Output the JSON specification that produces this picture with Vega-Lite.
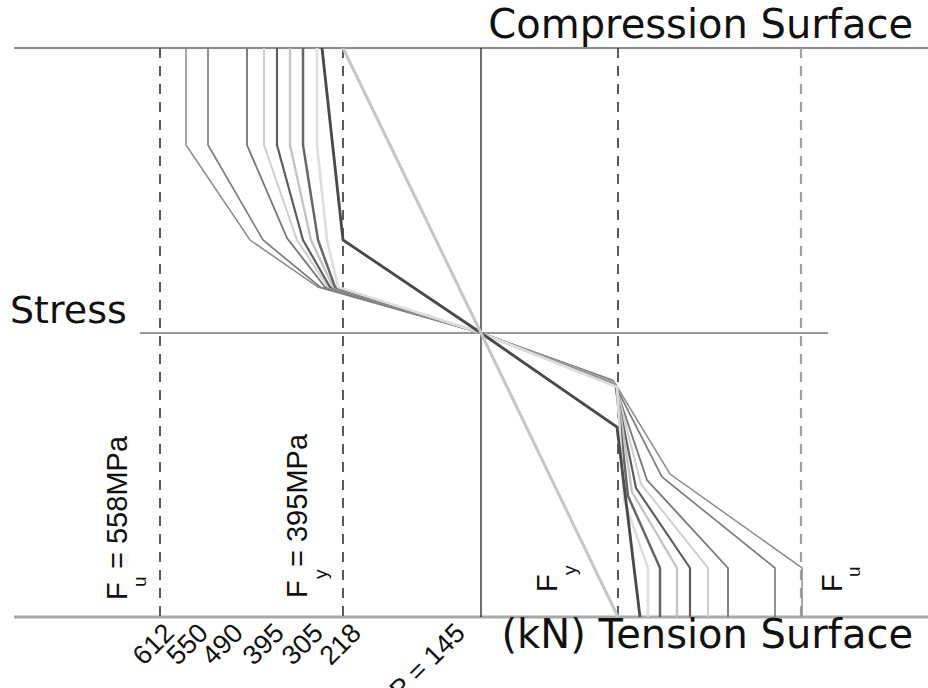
{
  "$schema": "https://vega.github.io/schema/vega-lite/v6.json",
  "width": 928,
  "height": 688,
  "padding": 0,
  "autosize": {"type": "none"},
  "background": "white",
  "config": {"view": {"stroke": null}},
  "datasets": {
    "curves": [
      {"series": "a", "k": 0, "s": -295, "d": 0}, {"series": "a", "k": 1, "s": -295, "d": 97}, {"series": "a", "k": 2, "s": -231, "d": 192}, {"series": "a", "k": 3, "s": -163, "d": 239}, {"series": "a", "k": 4, "s": 0, "d": 285}, {"series": "a", "k": 5, "s": 132, "d": 332}, {"series": "a", "k": 6, "s": 189, "d": 426}, {"series": "a", "k": 7, "s": 321, "d": 520}, {"series": "a", "k": 8, "s": 321, "d": 569},
      {"series": "b", "k": 0, "s": -273, "d": 0}, {"series": "b", "k": 1, "s": -273, "d": 97}, {"series": "b", "k": 2, "s": -218, "d": 192}, {"series": "b", "k": 3, "s": -161, "d": 239}, {"series": "b", "k": 4, "s": 0, "d": 285}, {"series": "b", "k": 5, "s": 132, "d": 333}, {"series": "b", "k": 6, "s": 181, "d": 429}, {"series": "b", "k": 7, "s": 294, "d": 520}, {"series": "b", "k": 8, "s": 294, "d": 569},
      {"series": "c", "k": 0, "s": -234, "d": 0}, {"series": "c", "k": 1, "s": -234, "d": 97}, {"series": "c", "k": 2, "s": -194, "d": 190}, {"series": "c", "k": 3, "s": -156, "d": 239}, {"series": "c", "k": 4, "s": 0, "d": 285}, {"series": "c", "k": 5, "s": 133, "d": 334}, {"series": "c", "k": 6, "s": 166, "d": 432}, {"series": "c", "k": 7, "s": 247, "d": 520}, {"series": "c", "k": 8, "s": 247, "d": 569},
      {"series": "d", "k": 0, "s": -217, "d": 0}, {"series": "d", "k": 1, "s": -217, "d": 97}, {"series": "d", "k": 2, "s": -184, "d": 192}, {"series": "d", "k": 3, "s": -153, "d": 239}, {"series": "d", "k": 4, "s": 0, "d": 285}, {"series": "d", "k": 5, "s": 134, "d": 335}, {"series": "d", "k": 6, "s": 160, "d": 436}, {"series": "d", "k": 7, "s": 227, "d": 520}, {"series": "d", "k": 8, "s": 227, "d": 569},
      {"series": "e", "k": 0, "s": -204, "d": 0}, {"series": "e", "k": 1, "s": -204, "d": 97}, {"series": "e", "k": 2, "s": -178, "d": 192}, {"series": "e", "k": 3, "s": -151, "d": 239}, {"series": "e", "k": 4, "s": 0, "d": 285}, {"series": "e", "k": 5, "s": 134, "d": 336}, {"series": "e", "k": 6, "s": 155, "d": 440}, {"series": "e", "k": 7, "s": 209, "d": 520}, {"series": "e", "k": 8, "s": 209, "d": 569},
      {"series": "f", "k": 0, "s": -191, "d": 0}, {"series": "f", "k": 1, "s": -191, "d": 97}, {"series": "f", "k": 2, "s": -170, "d": 192}, {"series": "f", "k": 3, "s": -148, "d": 239}, {"series": "f", "k": 4, "s": 0, "d": 285}, {"series": "f", "k": 5, "s": 135, "d": 337}, {"series": "f", "k": 6, "s": 151, "d": 444}, {"series": "f", "k": 7, "s": 196, "d": 520}, {"series": "f", "k": 8, "s": 196, "d": 569},
      {"series": "g", "k": 0, "s": -178, "d": 0}, {"series": "g", "k": 1, "s": -178, "d": 97}, {"series": "g", "k": 2, "s": -163, "d": 192}, {"series": "g", "k": 3, "s": -146, "d": 239}, {"series": "g", "k": 4, "s": 0, "d": 285}, {"series": "g", "k": 5, "s": 135, "d": 338}, {"series": "g", "k": 6, "s": 147, "d": 448}, {"series": "g", "k": 7, "s": 179, "d": 520}, {"series": "g", "k": 8, "s": 179, "d": 569},
      {"series": "h", "k": 0, "s": -164, "d": 0}, {"series": "h", "k": 1, "s": -164, "d": 97}, {"series": "h", "k": 2, "s": -154, "d": 192}, {"series": "h", "k": 3, "s": -143, "d": 239}, {"series": "h", "k": 4, "s": 0, "d": 285}, {"series": "h", "k": 5, "s": 136, "d": 339}, {"series": "h", "k": 6, "s": 143, "d": 452}, {"series": "h", "k": 7, "s": 167, "d": 520}, {"series": "h", "k": 8, "s": 167, "d": 569},
      {"series": "i", "k": 0, "s": -159, "d": 0}, {"series": "i", "k": 1, "s": -138, "d": 192}, {"series": "i", "k": 2, "s": 0, "d": 285}, {"series": "i", "k": 3, "s": 136, "d": 379}, {"series": "i", "k": 4, "s": 159, "d": 569},
      {"series": "j", "k": 0, "s": -138, "d": 0}, {"series": "j", "k": 1, "s": 0, "d": 285}, {"series": "j", "k": 2, "s": 137, "d": 569}
    ],
    "guides": [
      {"g": "top", "s": -467, "s2": 447, "d": 0, "d2": 0},
      {"g": "bottom", "s": -467, "s2": 447, "d": 569, "d2": 569},
      {"g": "stress", "s": -341, "s2": 347, "d": 285, "d2": 285},
      {"g": "center", "s": 0, "s2": 0, "d": 0, "d2": 569},
      {"g": "fuL", "s": -321, "s2": -321, "d": 0, "d2": 569},
      {"g": "fyL", "s": -138, "s2": -138, "d": 0, "d2": 569},
      {"g": "fyR", "s": 137, "s2": 137, "d": 0, "d2": 569},
      {"g": "fuR", "s": 320, "s2": 320, "d": 0, "d2": 569}
    ],
    "titles": [
      {"t": "Compression Surface", "s": 432, "d": -10},
      {"t": "(kN) Tension Surface", "s": 432, "d": 600}
    ],
    "axisname": [
      {"t": "Stress", "s": -471, "d": 275}
    ],
    "vlabels": [
      {"t": "F", "s": -354, "d": 552},
      {"t": "= 558MPa", "s": -354, "d": 521},
      {"t": "F", "s": -174, "d": 550},
      {"t": "= 395MPa", "s": -174, "d": 519},
      {"t": "F", "s": 76, "d": 544},
      {"t": "F", "s": 361, "d": 544}
    ],
    "subs": [
      {"t": "u", "s": -335, "d": 539},
      {"t": "y", "s": -154, "d": 531},
      {"t": "y", "s": 95, "d": 527},
      {"t": "u", "s": 379, "d": 529}
    ],
    "loads": [
      {"t": "612", "s": -311, "d": 581},
      {"t": "550", "s": -277, "d": 581},
      {"t": "490", "s": -242, "d": 581},
      {"t": "395", "s": -201, "d": 581},
      {"t": "305", "s": -162, "d": 581},
      {"t": "218", "s": -124, "d": 581},
      {"t": "P = 145", "s": -20, "d": 581}
    ]
  },
  "encoding": {
    "x": {"field": "s", "type": "quantitative", "axis": null, "scale": {"domain": [-481, 447], "nice": false, "zero": false}},
    "y": {"field": "d", "type": "quantitative", "axis": null, "scale": {"domain": [-48, 640], "reverse": true, "nice": false, "zero": false}}
  },
  "layer": [
    {
      "data": {"name": "guides"},
      "transform": [{"filter": "datum.g === 'top'"}],
      "mark": {"type": "rule", "color": "#8a8a8a", "strokeWidth": 2},
      "encoding": {"x2": {"field": "s2"}, "y2": {"field": "d2"}}
    },
    {
      "data": {"name": "guides"},
      "transform": [{"filter": "datum.g === 'bottom'"}],
      "mark": {"type": "rule", "color": "#a8a8a8", "strokeWidth": 3},
      "encoding": {"x2": {"field": "s2"}, "y2": {"field": "d2"}}
    },
    {
      "data": {"name": "guides"},
      "transform": [{"filter": "datum.g === 'stress'"}],
      "mark": {"type": "rule", "color": "#777777", "strokeWidth": 1.5},
      "encoding": {"x2": {"field": "s2"}, "y2": {"field": "d2"}}
    },
    {
      "data": {"name": "guides"},
      "transform": [{"filter": "datum.g === 'center'"}],
      "mark": {"type": "rule", "color": "#222222", "strokeWidth": 1.3},
      "encoding": {"x2": {"field": "s2"}, "y2": {"field": "d2"}}
    },
    {
      "data": {"name": "guides"},
      "transform": [{"filter": "datum.g === 'fuL' || datum.g === 'fyL'"}],
      "mark": {"type": "rule", "color": "#5a5a5a", "strokeWidth": 2, "strokeDash": [10, 8]},
      "encoding": {"x2": {"field": "s2"}, "y2": {"field": "d2"}}
    },
    {
      "data": {"name": "guides"},
      "transform": [{"filter": "datum.g === 'fyR'"}],
      "mark": {"type": "rule", "color": "#333333", "strokeWidth": 1.6, "strokeDash": [10, 8]},
      "encoding": {"x2": {"field": "s2"}, "y2": {"field": "d2"}}
    },
    {
      "data": {"name": "guides"},
      "transform": [{"filter": "datum.g === 'fuR'"}],
      "mark": {"type": "rule", "color": "#a0a0a0", "strokeWidth": 2.2, "strokeDash": [10, 8]},
      "encoding": {"x2": {"field": "s2"}, "y2": {"field": "d2"}}
    },
    {
      "data": {"name": "curves"},
      "mark": {"type": "line", "strokeJoin": "miter"},
      "encoding": {
        "order": {"field": "k", "type": "quantitative"},
        "color": {"field": "series", "type": "nominal", "legend": null,
          "scale": {"domain": ["a", "b", "c", "d", "e", "f", "g", "h", "i", "j"],
                    "range": ["#8c8c8c", "#7c7c7c", "#787878", "#cfcfcf", "#5e5e5e", "#c4c4c4", "#666666", "#dedede", "#4a4a4a", "#c6c6c6"]}},
        "strokeWidth": {"field": "series", "type": "ordinal", "legend": null,
          "scale": {"domain": ["a", "b", "c", "d", "e", "f", "g", "h", "i", "j"],
                    "range": [1.5, 3, 1.5, 1.5, 1.4, 1.5, 1.4, 1.5, 1.4, 2.2]}}
      }
    },
    {
      "data": {"name": "titles"},
      "mark": {"type": "text", "font": "DejaVu Sans", "fontSize": 40, "color": "#111111", "align": "right", "baseline": "alphabetic"},
      "encoding": {"text": {"field": "t"}}
    },
    {
      "data": {"name": "axisname"},
      "mark": {"type": "text", "font": "DejaVu Sans", "fontSize": 38, "color": "#111111", "align": "left", "baseline": "alphabetic"},
      "encoding": {"text": {"field": "t"}}
    },
    {
      "data": {"name": "vlabels"},
      "mark": {"type": "text", "font": "Liberation Sans", "fontSize": 29, "angle": 270, "align": "left", "baseline": "alphabetic", "color": "#111111"},
      "encoding": {"text": {"field": "t"}}
    },
    {
      "data": {"name": "subs"},
      "mark": {"type": "text", "font": "Liberation Sans", "fontSize": 19, "angle": 270, "align": "left", "baseline": "alphabetic", "color": "#111111"},
      "encoding": {"text": {"field": "t"}}
    },
    {
      "data": {"name": "loads"},
      "mark": {"type": "text", "font": "Liberation Sans", "fontSize": 27, "angle": -45, "align": "right", "baseline": "middle", "color": "#111111"},
      "encoding": {"text": {"field": "t"}}
    }
  ]
}
